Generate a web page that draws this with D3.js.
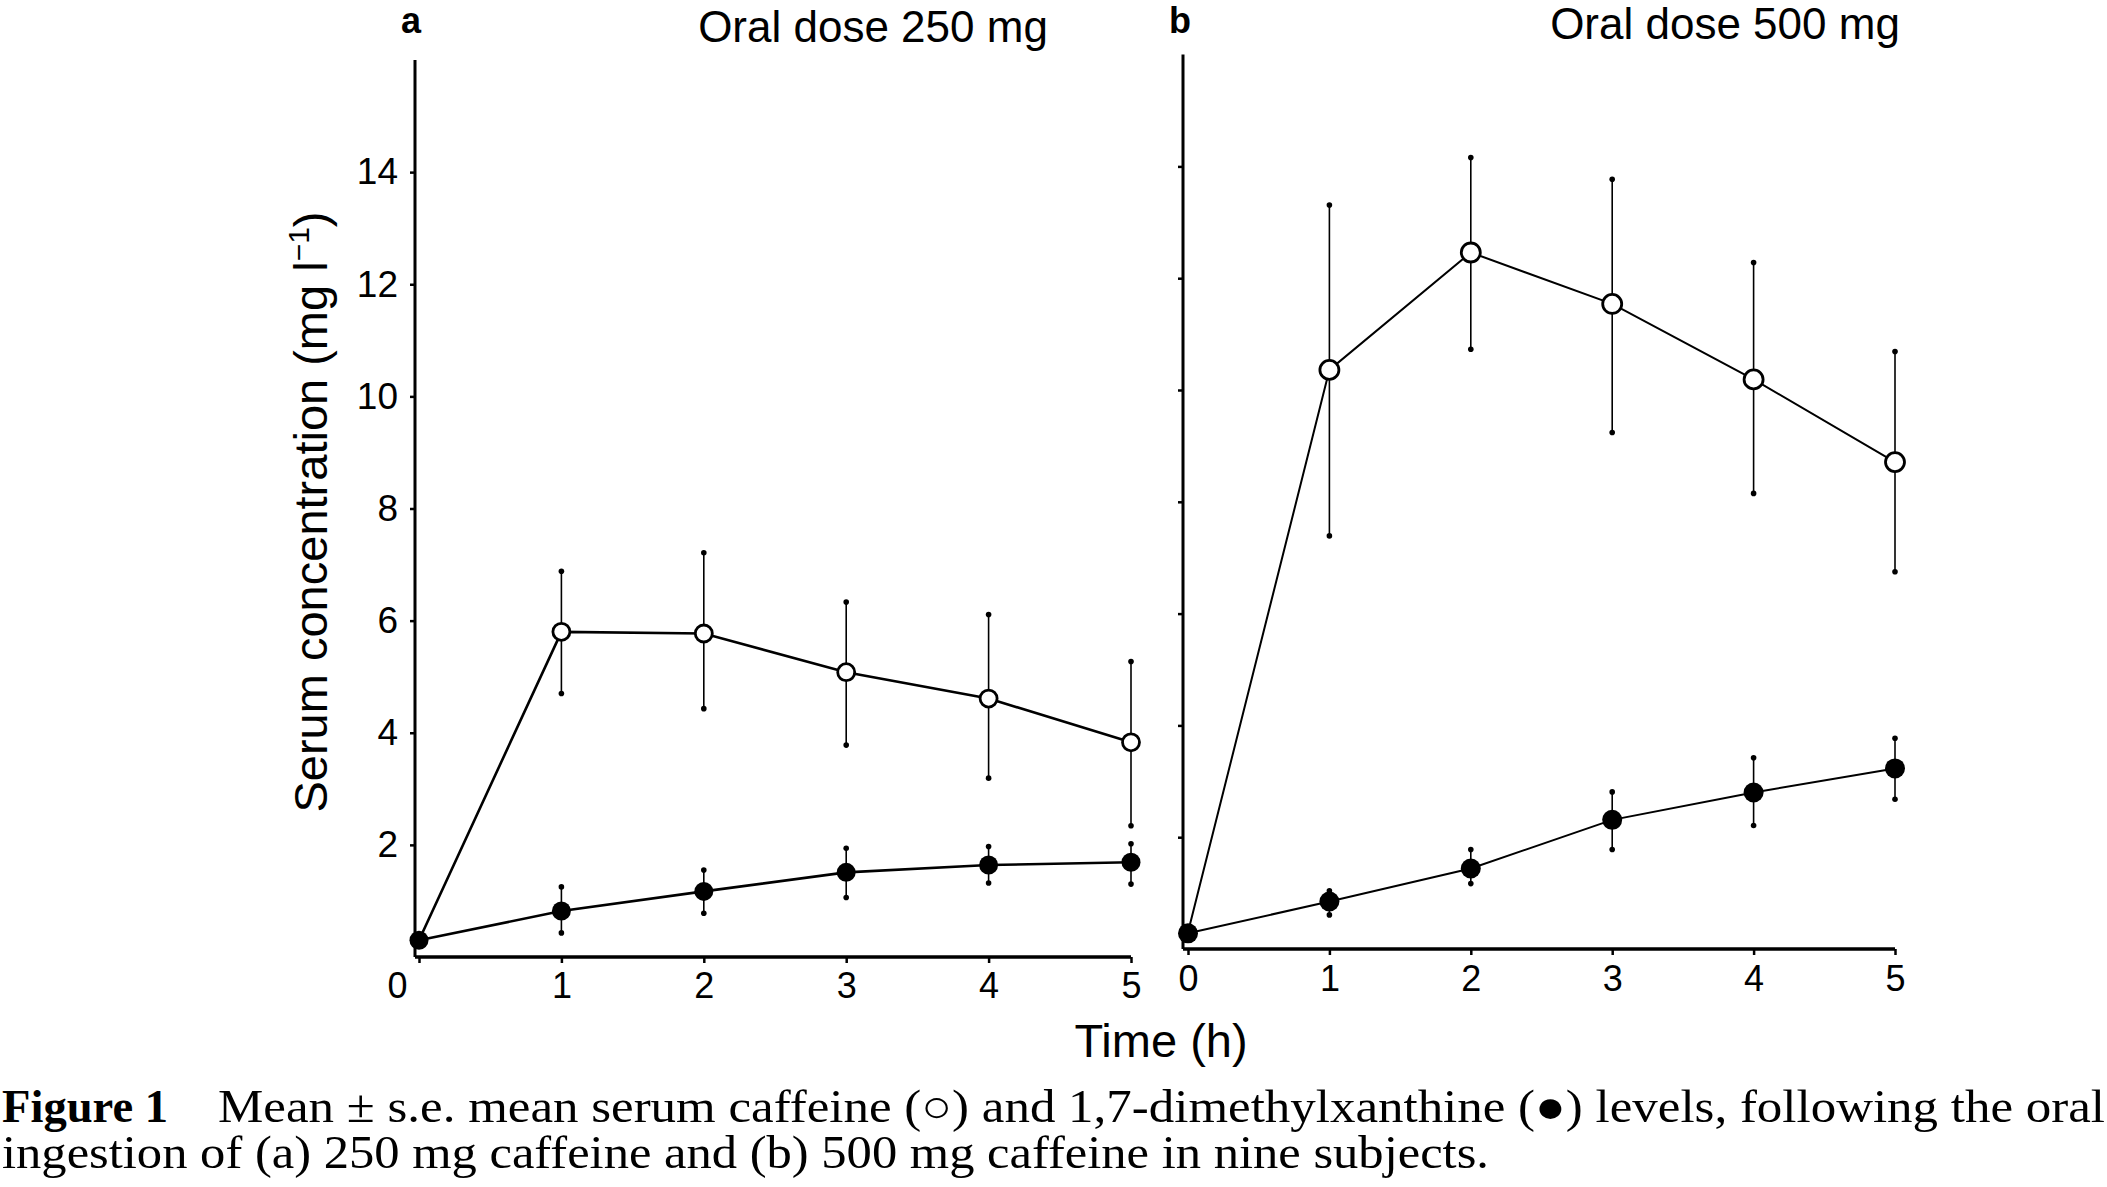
<!DOCTYPE html>
<html>
<head>
<meta charset="utf-8">
<script src="https://cdn.jsdelivr.net/npm/d3@7/dist/d3.min.js"></script>
<style>
  html, body { margin: 0; padding: 0; background: #fff; }
  svg { display: block; }
  .sans { font-family: "Liberation Sans", Arial, Helvetica, sans-serif; }
  .serif { font-family: "Liberation Serif", "Times New Roman", serif; }
</style>
</head>
<body>
<svg id="chart" width="2107" height="1187"></svg>
<script>
// ---------- data ----------
const times = [0, 1, 2, 3, 4, 5];
const xTickLabels = ["0", "1", "2", "3", "4", "5"];
const yTickValues = [2, 4, 6, 8, 10, 12, 14];
const yTickLabels = ["2", "4", "6", "8", "10", "12", "14"];

// Panel a: oral dose 250 mg
const caffeine250   = [0.30, 5.80, 5.77, 5.08, 4.61, 3.83];
const caffeine250Hi = [0.30, 6.88, 7.21, 6.33, 6.11, 5.27];
const caffeine250Lo = [0.30, 4.70, 4.43, 3.78, 3.19, 2.34];
const dmx250   = [0.30, 0.82, 1.17, 1.51, 1.64, 1.69];
const dmx250Hi = [0.30, 1.25, 1.55, 1.94, 1.97, 2.02];
const dmx250Lo = [0.30, 0.43, 0.78, 1.06, 1.32, 1.30];

// Panel b: oral dose 500 mg
const caffeine500   = [0.30, 10.36, 12.46, 11.54, 10.19, 8.71];
const caffeine500Hi = [0.30, 13.31, 14.16, 13.77, 12.28, 10.69];
const caffeine500Lo = [0.30, 7.39, 10.73, 9.24, 8.15, 6.75];
const dmx500   = [0.28, 0.85, 1.44, 2.31, 2.80, 3.23];
const dmx500Hi = [0.28, 1.04, 1.78, 2.81, 3.42, 3.77];
const dmx500Lo = [0.28, 0.61, 1.17, 1.78, 2.21, 2.68];

const panelLetters = ["a", "b"];
const panelTitles = ["Oral dose 250 mg", "Oral dose 500 mg"];
const yAxisTitle = "Serum concentration (mg l";
const xAxisTitle = "Time (h)";
const captionBold = "Figure 1";
const captionLine1 = "Mean \u00B1 s.e. mean serum caffeine (\u25CB) and 1,7-dimethylxanthine (\u25CF) levels, following the oral";
const captionLine2 = "ingestion of (a) 250 mg caffeine and (b) 500 mg caffeine in nine subjects.";

// ---------- drawing ----------
const svg = d3.select("#chart");

const panels = [
  { axisX: 415, x0: 419, x5: 1131, y0: 957, y16: 60, lw: 2.6, rOpen: 8.5, rFill: 9.5,
    caf: caffeine250, cafHi: caffeine250Hi, cafLo: caffeine250Lo,
    dmx: dmx250, dmxHi: dmx250Hi, dmxLo: dmx250Lo, labels: true, tickLabY: 998, zeroDx: -22,
    titleX: 873, titleY: 42, letterX: 411, letterY: 33 },
  { axisX: 1183, x0: 1188, x5: 1895, y0: 949, y16: 54.6, lw: 2.0, rOpen: 9.5, rFill: 10,
    caf: caffeine500, cafHi: caffeine500Hi, cafLo: caffeine500Lo,
    dmx: dmx500, dmxHi: dmx500Hi, dmxLo: dmx500Lo, labels: false, tickLabY: 991, zeroDx: 0,
    titleX: 1725, titleY: 39, letterX: 1180, letterY: 33 }
];

panels.forEach((p, i) => {
  const x = d3.scaleLinear().domain([0, 5]).range([p.x0, p.x5]);
  const y = d3.scaleLinear().domain([0, 16]).range([p.y0, p.y16]);
  const g = svg.append("g");

  // Y axis
  const yAxis = d3.axisLeft(y).tickValues(yTickValues).tickSize(5).tickPadding(12)
    .tickFormat((d, k) => p.labels ? yTickLabels[k] : "");
  const ya = g.append("g").attr("transform", `translate(${p.axisX},0)`).call(yAxis);
  ya.select(".domain").attr("d", `M0,${y(16)}V${y(0)}`).attr("stroke", "#000").attr("stroke-width", 3);
  ya.selectAll(".tick line").attr("stroke", "#000").attr("stroke-width", 2.5);
  ya.selectAll(".tick text").attr("class", "sans").attr("font-size", 37).attr("fill", "#000");

  // X axis
  const xAxis = d3.axisBottom(x).tickValues(times).tickSize(6).tickPadding(0)
    .tickFormat((d, k) => xTickLabels[k]);
  const xa = g.append("g").attr("transform", `translate(0,${p.y0})`).call(xAxis);
  xa.select(".domain").attr("d", `M${p.axisX},0H${x(5)}`).attr("stroke", "#000").attr("stroke-width", 3.5);
  xa.selectAll(".tick line").attr("stroke", "#000").attr("stroke-width", 2.5);
  xa.selectAll(".tick text").attr("class", "sans").attr("font-size", 36).attr("fill", "#000")
    .attr("dy", null).attr("y", p.tickLabY - p.y0)
    .attr("dx", (d, k) => k === 0 ? p.zeroDx : 0);

  // Lines
  const line = d3.line().x((d, k) => x(times[k])).y(d => y(d));
  g.append("path").datum(p.caf).attr("d", line).attr("fill", "none").attr("stroke", "#000").attr("stroke-width", p.lw);
  g.append("path").datum(p.dmx).attr("d", line).attr("fill", "none").attr("stroke", "#000").attr("stroke-width", p.lw);

  // Error bars
  const drawErr = (hi, lo) => {
    times.forEach((t, k) => {
      if (hi[k] === lo[k]) return;
      g.append("line").attr("x1", x(t)).attr("x2", x(t)).attr("y1", y(hi[k])).attr("y2", y(lo[k]))
        .attr("stroke", "#000").attr("stroke-width", 1.6);
      g.append("circle").attr("cx", x(t)).attr("cy", y(hi[k])).attr("r", 2.8).attr("fill", "#000");
      g.append("circle").attr("cx", x(t)).attr("cy", y(lo[k])).attr("r", 2.8).attr("fill", "#000");
    });
  };
  drawErr(p.cafHi, p.cafLo);
  drawErr(p.dmxHi, p.dmxLo);

  // Markers
  g.selectAll(".caf").data(p.caf).enter().append("circle")
    .attr("cx", (d, k) => x(times[k])).attr("cy", d => y(d))
    .attr("r", (d, k) => k === 0 ? 0 : p.rOpen)
    .attr("fill", "#fff").attr("stroke", "#000").attr("stroke-width", 2.8);
  g.selectAll(".dmx").data(p.dmx).enter().append("circle")
    .attr("cx", (d, k) => x(times[k])).attr("cy", d => y(d))
    .attr("r", p.rFill).attr("fill", "#000");

  // Titles
  svg.append("text").attr("class", "sans").attr("x", p.titleX).attr("y", p.titleY)
    .attr("text-anchor", "middle").attr("font-size", 44).attr("fill", "#000").text(panelTitles[i]);
  svg.append("text").attr("class", "sans").attr("x", p.letterX).attr("y", p.letterY)
    .attr("text-anchor", "middle").attr("font-size", 36).attr("font-weight", "bold").attr("fill", "#000")
    .text(panelLetters[i]);
});

// Y axis title (rotated)
const yt = svg.append("text").attr("class", "sans")
  .attr("transform", "translate(327,512) rotate(-90)")
  .attr("text-anchor", "middle").attr("font-size", 47).attr("fill", "#000");
yt.append("tspan").text(yAxisTitle);
yt.append("tspan").attr("font-size", 30).attr("dy", -18).text("\u22121");
yt.append("tspan").attr("dy", 18).text(")");

// X axis title
svg.append("text").attr("class", "sans").attr("x", 1161).attr("y", 1057)
  .attr("text-anchor", "middle").attr("font-size", 47).attr("fill", "#000").text(xAxisTitle);

// Caption
svg.append("text").attr("class", "serif").attr("x", 2).attr("y", 1122)
  .attr("font-size", 46).attr("font-weight", "bold").attr("fill", "#000")
  .attr("textLength", 166).attr("lengthAdjust", "spacingAndGlyphs").text(captionBold);
svg.append("text").attr("class", "serif").attr("x", 218).attr("y", 1122)
  .attr("font-size", 46).attr("fill", "#000")
  .attr("textLength", 1887).attr("lengthAdjust", "spacingAndGlyphs").text(captionLine1);
svg.append("text").attr("class", "serif").attr("x", 2).attr("y", 1168)
  .attr("font-size", 46).attr("fill", "#000")
  .attr("textLength", 1487).attr("lengthAdjust", "spacingAndGlyphs").text(captionLine2);
</script>
</body>
</html>
